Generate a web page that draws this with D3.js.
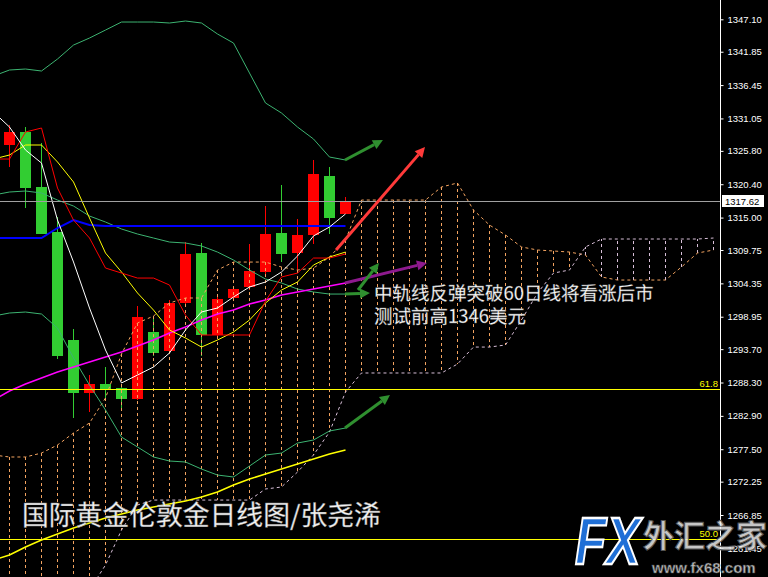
<!DOCTYPE html>
<html><head><meta charset="utf-8">
<script src="https://cdn.jsdelivr.net/npm/d3@7"></script>
<style>html,body{margin:0;padding:0;background:#000;overflow:hidden}</style>
</head><body>
<svg id="c" width="768" height="577"></svg>
<script>
// ---------- DATA ----------
// candles, bar index 0..21
const barIdx = d3.range(0, 22);
const openP  = [1326.75,1328.86,1319.95,1312.67,1295.18,1286.60,1288.06,1287.41,1285.63,1296.48,1293.40,1301.17,1309.27,1295.91,1302.03,1303.76,1306.19,1312.50,1309.27,1312.18,1321.73,1315.63];
const highP  = [1329.99,1329.71,1327.07,1315.09,1296.96,1289.52,1290.76,1288.06,1300.69,1298.74,1301.66,1311.05,1310.89,1302.14,1303.60,1310.72,1316.88,1320.27,1314.77,1324.32,1323.19,1318.33];
const lowP   = [1323.19,1316.60,1312.34,1292.11,1282.55,1283.57,1285.47,1284.17,1285.50,1292.59,1293.24,1300.85,1292.59,1295.35,1301.90,1303.28,1305.56,1307.81,1306.51,1310.72,1312.34,1315.50];
const closeP = [1328.86,1319.79,1312.39,1292.64,1286.65,1288.06,1287.25,1285.71,1298.91,1293.08,1301.17,1309.10,1295.99,1301.82,1303.44,1306.35,1312.39,1309.10,1312.18,1322.06,1314.93,1317.62];

// indicator lines, bar index -1..21
const lineIdx = d3.range(-1, 22);
const maWhite  = [1332.09,1329.66,1325.94,1323.83,1314.61,1307.81,1300.36,1293.56,1288.22,1289.51,1290.81,1293.08,1296.80,1299.72,1300.36,1302.14,1303.76,1304.57,1306.19,1308.78,1312.02,1313.48,1315.58];
const tenkan   = [1324.48,1324.48,1328.85,1329.50,1319.78,1314.60,1311.69,1306.83,1306.02,1305.21,1305.21,1304.08,1299.22,1295.99,1295.99,1295.99,1295.99,1301.49,1305.38,1306.02,1308.45,1308.45,1309.10];
const kijun    = [1324.48,1325.13,1326.75,1326.75,1324.00,1320.76,1314.93,1309.26,1306.19,1302.79,1300.03,1296.80,1295.50,1294.04,1295.18,1296.47,1298.42,1301.17,1303.27,1304.57,1307.32,1308.61,1309.42];
const blueLine = [1311.69,1311.69,1311.69,1311.69,1313.31,1314.60,1313.79,1313.63,1313.63,1313.63,1313.63,1313.63,1313.63,1313.63,1313.63,1313.63,1313.63,1313.63,1313.63,1313.63,1313.63,1313.63,1313.63];
const ma60     = [1285.46,1286.92,1288.05,1289.03,1290.00,1290.81,1291.62,1292.43,1293.23,1294.21,1295.18,1296.31,1297.28,1298.42,1299.39,1300.03,1301.01,1301.65,1302.46,1302.95,1303.43,1303.92,1304.41];
const bbUpper  = [1337.92,1338.89,1339.05,1338.73,1340.67,1342.93,1344.07,1345.36,1346.66,1346.66,1346.66,1346.50,1346.82,1346.50,1344.72,1343.26,1338.40,1333.55,1331.93,1329.66,1327.72,1324.80,1324.32];
const bbMid    = [1318.65,1319.14,1319.30,1318.98,1317.84,1316.87,1315.25,1314.28,1313.15,1312.34,1311.69,1311.04,1310.88,1310.40,1309.42,1308.13,1306.51,1305.05,1304.41,1303.43,1302.95,1302.62,1302.62];
const bbLower  = [1299.06,1299.55,1299.71,1299.39,1297.12,1292.26,1287.89,1283.85,1279.47,1277.86,1276.24,1275.59,1275.43,1274.29,1273.32,1273.00,1274.78,1276.56,1276.88,1278.50,1278.99,1280.45,1280.93];
const maLong   = [1259.56,1260.37,1261.67,1262.80,1263.77,1264.74,1265.55,1266.36,1267.01,1267.66,1268.14,1268.63,1269.11,1269.76,1270.57,1271.70,1272.67,1273.48,1274.29,1275.10,1275.91,1276.72,1277.37];

// Ichimoku cloud, bar index -1..44
const cloudIdx = d3.range(-1, 45);
const spanA = [1276.56,1276.24,1276.24,1276.88,1278.18,1280.12,1281.74,1285.79,1292.91,1297.93,1299.06,1301.17,1301.98,1301.98,1306.51,1307.80,1307.80,1307.80,1307.00,1306.51,1306.83,1308.61,1311.37,
  1317.84,1317.84,1317.84,1317.84,1317.84,1319.95,1320.60,1316.22,1313.79,1312.18,1310.24,1309.75,1309.59,1309.42,1308.94,1305.38,1304.89,1304.89,1304.89,1304.89,1307.00,1309.26,1309.75];
const spanB = [1249.85,1250.66,1251.47,1252.28,1253.09,1253.90,1254.70,1258.75,1264.42,1268.47,1269.27,1269.27,1269.27,1269.27,1269.27,1269.27,1269.27,1271.06,1271.38,1273.81,1276.56,1280.28,1286.76,
  1289.84,1289.84,1289.84,1289.84,1289.84,1289.84,1291.29,1294.04,1294.04,1294.37,1298.42,1302.79,1306.02,1306.51,1310.24,1311.53,1311.53,1311.53,1311.53,1311.53,1311.53,1311.53,1311.69];

// axis
const tickValues = [1347.10,1341.85,1336.45,1331.05,1325.80,1320.40,1315.00,1309.75,1304.35,1298.95,1293.70,1288.30,1282.90,1277.50,1272.25,1266.85,1261.45];
const lastPrice = 1317.62;
const fibLevels = [{label:"61.8", price:1287.25},{label:"50.0", price:1262.97}];

// arrows: [fromIndex, fromPrice, toIndex, toPrice, color]
const arrows = [
  [20.97,1324.32,23.34,1327.56,"#2f8f2f"],
  [20.41,1309.75,25.97,1326.42,"#ff3a3a"],
  [20.97,1304.41,26.09,1307.64,"#8e1a8e"],
  [20.97,1302.62,22.53,1302.79,"#2f8f2f"],
  [21.78,1303.27,23.09,1307.64,"#2f8f2f"],
  [20.97,1280.93,23.78,1286.27,"#2f8f2f"]
];

const noteLines = ["中轨线反弹突破60日线将看涨后市","测试前高1346美元"];
const titleText = "国际黄金伦敦金日线图/张尧浠";

// ---------- DRAW ----------
const svg = d3.select("#c");
const plotR = 720;
const y = d3.scaleLinear().domain([1266.85,1347.10]).range([515,19.3]);
const x = d3.scaleLinear().domain([0,1]).range([9.5,25.5]);

svg.append("rect").attr("width",768).attr("height",577).attr("fill","#000");
svg.append("defs").append("clipPath").attr("id","plot")
  .append("rect").attr("x",0).attr("y",0).attr("width",plotR).attr("height",577);
const g = svg.append("g").attr("clip-path","url(#plot)");

// candles
const UP="#ff0000", DN="#32cd32";
const cg = g.append("g").attr("shape-rendering","crispEdges");
barIdx.forEach((i,k)=>{
  const up = closeP[k] >= openP[k];
  const col = up?UP:DN;
  cg.append("line").attr("x1",x(i)).attr("x2",x(i))
    .attr("y1",Math.round(y(highP[k]))).attr("y2",Math.round(y(lowP[k])))
    .attr("stroke",col).attr("stroke-width",1);
  const t = Math.round(y(Math.max(openP[k],closeP[k]))), b = Math.round(y(Math.min(openP[k],closeP[k])));
  cg.append("rect").attr("x",x(i)-5.5).attr("y",t).attr("width",11).attr("height",Math.max(1,b-t)).attr("fill",col);
});

// cloud hatches
const hg = g.append("g");
cloudIdx.forEach((i,k)=>{
  const a=spanA[k], b=spanB[k];
  hg.append("line").attr("x1",x(i)).attr("x2",x(i)).attr("y1",y(a)).attr("y2",y(b))
    .attr("stroke", a>=b ? "#f4a460" : "#d8bfd8").attr("stroke-width",1)
    .attr("stroke-dasharray","3,3");
});
const cl = d3.line().x((d,k)=>x(cloudIdx[k])).y(d=>y(d));
g.append("path").attr("d",cl(spanA)).attr("fill","none").attr("stroke","#f4a460").attr("stroke-dasharray","3,3");
g.append("path").attr("d",cl(spanB)).attr("fill","none").attr("stroke","#d8bfd8").attr("stroke-dasharray","3,3");

// indicator lines
const ll = d3.line().x((d,k)=>x(lineIdx[k])).y(d=>y(d));
const addLine=(arr,col,w)=>g.append("path").attr("d",ll(arr)).attr("fill","none").attr("stroke",col).attr("stroke-width",w);
addLine(bbUpper,"#3cb371",1);
addLine(bbMid,"#3cb371",1);
addLine(bbLower,"#3cb371",1);
addLine(maLong,"#ffff00",1.5);
addLine(ma60,"#ff00ff",1.5);
addLine(blueLine,"#0000ff",2);
addLine(kijun,"#ffff00",1);
addLine(tenkan,"#ff0000",1);
addLine(maWhite,"#ffffff",1);

// horizontal lines
g.append("line").attr("x1",0).attr("x2",plotR).attr("y1",Math.round(y(lastPrice))+0.5).attr("y2",Math.round(y(lastPrice))+0.5)
  .attr("stroke","#a0a0a0");
fibLevels.forEach(f=>{
  const yy = Math.round(y(f.price))+0.5;
  g.append("line").attr("x1",0).attr("x2",plotR).attr("y1",yy).attr("y2",yy).attr("stroke","#ffff00");
  svg.append("text").attr("x",718).attr("y",yy-2.5).attr("text-anchor","end")
    .attr("fill","#ffff00").attr("font-family","Liberation Sans, Arial, sans-serif").attr("font-size","9.5px").text(f.label);
});

// arrows
arrows.forEach(([i1,p1,i2,p2,col])=>{
  const X1=x(i1),Y1=y(p1),X2=x(i2),Y2=y(p2);
  const dx=X2-X1, dy=Y2-Y1, L=Math.hypot(dx,dy), ux=dx/L, uy=dy/L;
  const hl=10, hw=5;
  const bx=X2-ux*hl, by=Y2-uy*hl;
  svg.append("line").attr("x1",X1).attr("y1",Y1).attr("x2",bx).attr("y2",by)
    .attr("stroke",col).attr("stroke-width",3);
  svg.append("path").attr("d",`M${X2},${Y2}L${bx-uy*hw},${by+ux*hw}L${bx+uy*hw},${by-ux*hw}Z`).attr("fill",col);
});

// annotation text
const cjk = "'Noto Sans CJK SC', sans-serif";
noteLines.forEach((t,k)=>{
  svg.append("text").attr("x",374).attr("y",300+k*23).attr("fill","#ffffff")
    .attr("stroke","#777").attr("stroke-width",0.3)
    .attr("font-family",cjk).attr("font-size","18.5px").text(t);
});
svg.append("text").attr("x",22).attr("y",525).attr("fill","#f4f4f4")
  .attr("stroke","#888").attr("stroke-width",0.4)
  .attr("font-family",cjk).attr("font-size","26.8px").text(titleText);

// axis
svg.append("line").attr("x1",plotR+0.5).attr("x2",plotR+0.5).attr("y1",0).attr("y2",577).attr("stroke","#fff");
const ax = svg.append("g").attr("transform",`translate(${plotR+0.5},0)`)
  .call(d3.axisRight(y).tickValues(tickValues).tickFormat(d3.format(".2f")).tickSize(3).tickPadding(4));
ax.select(".domain").remove();
ax.selectAll("line").attr("stroke","#fff");
ax.selectAll("text").attr("fill","#fff").attr("font-family","Liberation Sans, Arial, sans-serif").attr("font-size","9.5px");

// last price label
const ly = y(lastPrice);
svg.append("rect").attr("x",722).attr("y",Math.round(ly)-6).attr("width",42).attr("height",12).attr("fill","#fff");
svg.append("text").attr("x",725).attr("y",Math.round(ly)+3.5).attr("fill","#000")
  .attr("font-family","Liberation Sans, Arial, sans-serif").attr("font-size","9.5px").text(lastPrice.toFixed(2));

// watermark
const wm = svg.append("g");
wm.append("text").attr("transform","translate(575,564) scale(1,1.3)").attr("font-family","Liberation Sans, Arial, sans-serif")
  .attr("font-weight","bold").attr("font-style","italic").attr("font-size","51px")
  .attr("fill","#1f6fd6").attr("stroke","#ffffff").attr("stroke-width",1.8).text("FX");
wm.append("text").attr("x",643).attr("y",547).attr("font-family",cjk).attr("font-weight","bold")
  .attr("font-size","31px").attr("fill","rgba(235,235,235,0.85)").attr("stroke","#555").attr("stroke-width",1).text("外汇之家");
wm.append("text").attr("x",652).attr("y",573).attr("font-family","Liberation Sans, Arial, sans-serif").attr("font-weight","bold")
  .attr("font-size","15px").attr("fill","rgba(230,230,230,0.85)").attr("stroke","#444").attr("stroke-width",0.6).text("www.fx68.com");
</script>
</body></html>
